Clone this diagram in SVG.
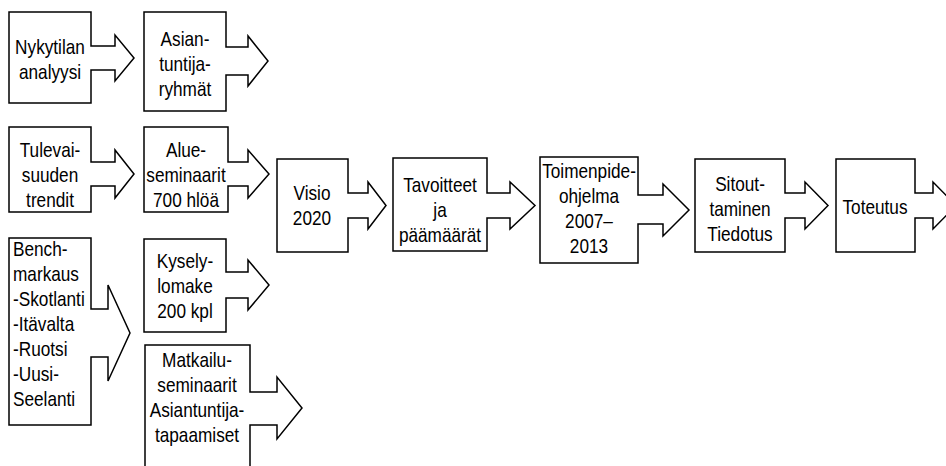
<svg xmlns="http://www.w3.org/2000/svg" width="946" height="466" viewBox="0 0 946 466">
<style>
.s{fill:#fff;stroke:#000;stroke-width:1.5;stroke-linejoin:miter}
text{font-family:"Liberation Sans",Arial,sans-serif;font-size:21px;fill:#000}
.c text{text-anchor:middle}
</style>
<rect width="946" height="466" fill="#fff"/>
<g id="connectors"></g>
<g id="n-nykytila">
<path class="s" d="M9,12 H91 V46 H115 V35 L134,58 L115,81 V70 H91 V103 H9 Z"/>
<g class="c" transform="translate(50,0) scale(0.82,1)">
<text x="0" y="54">Nykytilan</text>
<text x="0" y="79">analyysi</text>
</g>
</g>
<g id="n-asiantuntija">
<path class="s" d="M144,12 H226 V47 H248 V36 L268,61 L248,86 V75 H226 V111 H144 Z"/>
<g class="c" transform="translate(185,0) scale(0.82,1)">
<text x="0" y="46">Asian-</text>
<text x="0" y="71">tuntija-</text>
<text x="0" y="96">ryhmät</text>
</g>
</g>
<g id="n-tulevaisuus">
<path class="s" d="M9,127 H91 V162 H115 V150 L134,174 L115,198 V186 H91 V212 H9 Z"/>
<g class="c" transform="translate(50,0) scale(0.82,1)">
<text x="0" y="157">Tulevai-</text>
<text x="0" y="182">suuden</text>
<text x="0" y="207">trendit</text>
</g>
</g>
<g id="n-alue">
<path class="s" d="M144,127 H228 V162 H248 V150 L269,174 L248,198 V186 H228 V212 H144 Z"/>
<g class="c" transform="translate(186,0) scale(0.82,1)">
<text x="0" y="157">Alue-</text>
<text x="0" y="182">seminaarit</text>
<text x="0" y="207">700 hlöä</text>
</g>
</g>
<g id="n-bench">
<path class="s" d="M9,238 H91 V309 H108 V285 L130,333 L108,381 V357 H91 V425 H9 Z"/>
<g transform="translate(13,0) scale(0.82,1)">
<text x="0" y="256">Bench-</text>
<text x="0" y="281">markaus</text>
<text x="0" y="306">-Skotlanti</text>
<text x="0" y="331">-Itävalta</text>
<text x="0" y="356">-Ruotsi</text>
<text x="0" y="381">-Uusi-</text>
<text x="0" y="406">Seelanti</text>
</g>
</g>
<g id="n-kysely">
<path class="s" d="M144,239 H226 V272 H248 V260 L269,285 L248,310 V298 H226 V332 H144 Z"/>
<g class="c" transform="translate(185,0) scale(0.82,1)">
<text x="0" y="268">Kysely-</text>
<text x="0" y="293">lomake</text>
<text x="0" y="318">200 kpl</text>
</g>
</g>
<g id="n-matkailu">
<path class="s" d="M145,345 H250 V392 H277 V377 L302,408 L277,439 V425 H250 V480 H145 Z"/>
<g class="c" transform="translate(197,0) scale(0.82,1)">
<text x="0" y="367">Matkailu-</text>
<text x="0" y="392">seminaarit</text>
<text x="0" y="417">Asiantuntija-</text>
<text x="0" y="442">tapaamiset</text>
</g>
</g>
<g id="n-visio">
<path class="s" d="M277,159 H348 V193 H368 V182 L386,205.5 L368,229 V218 H348 V252 H277 Z"/>
<g class="c" transform="translate(312,0) scale(0.82,1)">
<text x="0" y="200">Visio</text>
<text x="0" y="225">2020</text>
</g>
</g>
<g id="n-tavoitteet">
<path class="s" d="M393,158 H487 V193 H510 V182 L535,205.5 L510,229 V218 H487 V251 H393 Z"/>
<g class="c" transform="translate(440,0) scale(0.82,1)">
<text x="0" y="192">Tavoitteet</text>
<text x="0" y="217">ja</text>
<text x="0" y="242">päämäärät</text>
</g>
</g>
<g id="n-toimenpide">
<path class="s" d="M540,157 H638 V195 H663 V184 L689,210 L663,236 V224 H638 V263 H540 Z"/>
<g class="c" transform="translate(589,0) scale(0.82,1)">
<text x="0" y="178">Toimenpide-</text>
<text x="0" y="203">ohjelma</text>
<text x="0" y="228">2007–</text>
<text x="0" y="253">2013</text>
</g>
</g>
<g id="n-sitouttaminen">
<path class="s" d="M695,159 H785 V193 H805 V182 L828,205.5 L805,229 V218 H785 V252 H695 Z"/>
<g class="c" transform="translate(740,0) scale(0.82,1)">
<text x="0" y="191">Sitout-</text>
<text x="0" y="216">taminen</text>
<text x="0" y="241">Tiedotus</text>
</g>
</g>
<g id="n-toteutus">
<path class="s" d="M836,159 H915 V193 H933 V182 L956,205.5 L933,229 V218 H915 V252 H836 Z"/>
<g class="c" transform="translate(875,0) scale(0.82,1)">
<text x="0" y="214">Toteutus</text>
</g>
</g>
</svg>
